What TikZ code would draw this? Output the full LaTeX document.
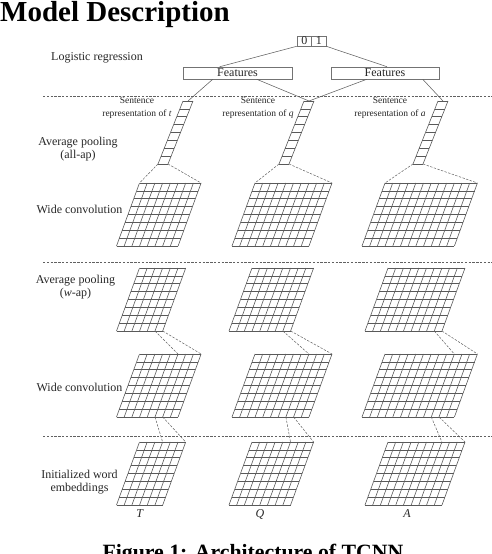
\documentclass[tikz,border=0pt]{standalone}
\usepackage{fontspec}
\setmainfont{Liberation Serif}
\usetikzlibrary{calc}
\def\ch{7.875}
% name, x0, ybottom, ncols, nrows, cell width, slant per row
\newcommand\cnngrid[7]{%
  \foreach \i in {0,...,#4}{
    \coordinate (#1-b\i) at ({#2+\i*#6},{#3});
    \coordinate (#1-t\i) at ({#2+\i*#6+#5*#7},{#3-#5*\ch});
    \draw[gridline] (#1-b\i) -- (#1-t\i);
  }
  \foreach \j in {0,...,#5}{
    \draw[gridline] ({#2+\j*#7},{#3-\j*\ch}) -- ++({#4*#6},0);
  }
}
\begin{document}
\begin{tikzpicture}[x=1pt,y=-1pt,
  gridline/.style={draw=black!65, line width=0.6pt},
  dashline/.style={draw=black!62, line width=0.5pt, dash pattern=on 2.4pt off 1.4pt},
  conn/.style={draw=black!62, line width=0.55pt},
  lbl/.style={font=\fontsize{12}{13}\selectfont, align=center, text=black!85, inner sep=0},
  slbl/.style={font=\fontsize{9.5}{13}\selectfont, align=center, text=black!85, inner sep=0},
  box/.style={draw=black!55, line width=0.55pt, inner sep=0, font=\fontsize{12}{12}\selectfont, text=black!85}
]
\path[use as bounding box] (0,0) rectangle (492,554);
\clip (0,0) rectangle (492,554);

% headings
\node[anchor=base west, inner sep=0, font=\bfseries\fontsize{29}{29}\selectfont] (title) at (0,21) {Model Description};
\node[anchor=base, inner sep=0, font=\bfseries\fontsize{21.8}{22}\selectfont] (caption) at (253,559.5) {Figure 1: Architecture of TCNN};

% separators
\coordinate (s1a) at (43,96);  \coordinate (s1b) at (492,96);
\coordinate (s2a) at (43,262); \coordinate (s2b) at (492,262);
\coordinate (s3a) at (43,436); \coordinate (s3b) at (492,436);
\draw[dashline] (s1a) -- (s1b);
\draw[dashline] (s2a) -- (s2b);
\draw[dashline] (s3a) -- (s3b);

% output and feature boxes
\node[box, minimum width=14.5pt, minimum height=10pt] (zero) at (304.25,41) {0};
\node[box, minimum width=14.5pt, minimum height=10pt] (one) at (318.75,41) {1};
\node[box, minimum width=109pt, minimum height=12pt] (f1) at (237.5,73) {Features};
\node[box, minimum width=108pt, minimum height=12pt] (f2) at (385,73) {Features};

% row labels
\node[lbl] (lr) at (97,58) {Logistic regression};
\node[lbl] (ap1) at (78,149.5) {Average pooling\\(all-ap)};
\node[lbl] (wc1) at (79.5,209) {Wide convolution};
\node[lbl] (ap2) at (75.5,287.5) {Average pooling\\(\textit{w}-ap)};
\node[lbl] (wc2) at (79.5,387) {Wide convolution};
\node[lbl] (iw) at (79.5,482.5) {Initialized word\\embeddings};
\node[slbl] (st) at (137,108) {Sentence\\representation of \textit{t}};
\node[slbl] (sq) at (258,108) {Sentence\\representation of \textit{q}};
\node[slbl] (sa) at (390,108) {Sentence\\representation of \textit{a}};
\node[lbl] (lt) at (140,514) {\textit{T}};
\node[lbl] (lq) at (260,514) {\textit{Q}};
\node[lbl] (la) at (407,514) {\textit{A}};

% sentence vectors
\cnngrid{vt}{158}{164}{1}{8}{10}{3.125}
\cnngrid{vq}{279}{164}{1}{8}{10}{3.125}
\cnngrid{va}{413}{164}{1}{8}{10}{3.125}

% upper wide convolution
\cnngrid{cut}{116.5}{246}{8}{8}{7.7}{2.875}
\cnngrid{cuq}{232}{246}{10}{8}{7.7}{2.875}
\cnngrid{cua}{362}{246}{12}{8}{7.7}{2.875}

% w-ap
\cnngrid{wt}{116.5}{331}{6}{8}{7.7}{2.875}
\cnngrid{wq}{229}{331}{8}{8}{7.7}{2.875}
\cnngrid{wa}{365}{331}{10}{8}{7.7}{2.875}

% lower wide convolution
\cnngrid{clt}{116.5}{417}{8}{8}{7.7}{2.875}
\cnngrid{clq}{232}{417}{10}{8}{7.7}{2.875}
\cnngrid{cla}{362}{417}{12}{8}{7.7}{2.875}

% embeddings
\cnngrid{et}{116.5}{505}{6}{8}{7.7}{2.875}
\cnngrid{eq}{229}{505}{8}{8}{7.7}{2.875}
\cnngrid{ea}{365}{505}{10}{8}{7.7}{2.875}

% solid connectors
\draw[conn] (zero.south west) -- ([xshift=37pt]f1.north west);
\draw[conn] (one.south east) -- ([xshift=2pt]f2.north);
\draw[conn] ([xshift=30pt]f1.south west) -- ($(vt-t0)!0.5!(vt-t1)$);
\draw[conn] ([xshift=74pt]f1.south west) -- ($(vq-t0)!0.5!(vq-t1)$);
\draw[conn] ([xshift=36pt]f2.south west) -- ($(vq-t0)!0.5!(vq-t1)$);
\draw[conn] ([xshift=92pt]f2.south west) -- ($(va-t0)!0.5!(va-t1)$);

% all-ap connectors
\draw[dashline] (vt-b0) -- (cut-t0);  \draw[dashline] (vt-b1) -- (cut-t8);
\draw[dashline] (vq-b0) -- (cuq-t0);  \draw[dashline] (vq-b1) -- (cuq-t10);
\draw[dashline] (va-b0) -- (cua-t0);  \draw[dashline] (va-b1) -- (cua-t12);

% w-ap connectors
\draw[dashline] (wt-b5) -- (clt-t5);  \draw[dashline] (wt-b6) -- (clt-t8);
\draw[dashline] (wq-b7) -- (clq-t7);  \draw[dashline] (wq-b8) -- (clq-t10);
\draw[dashline] (wa-b9) -- (cla-t9);  \draw[dashline] (wa-b10) -- (cla-t12);

% convolution connectors
\draw[dashline] (clt-b5) -- (et-t3);  \draw[dashline] (clt-b6) -- (et-t6);
\draw[dashline] (clq-b7) -- (eq-t5);  \draw[dashline] (clq-b8) -- (eq-t8);
\draw[dashline] (cla-b9) -- (ea-t7);  \draw[dashline] (cla-b10) -- (ea-t10);
\end{tikzpicture}
\end{document}
